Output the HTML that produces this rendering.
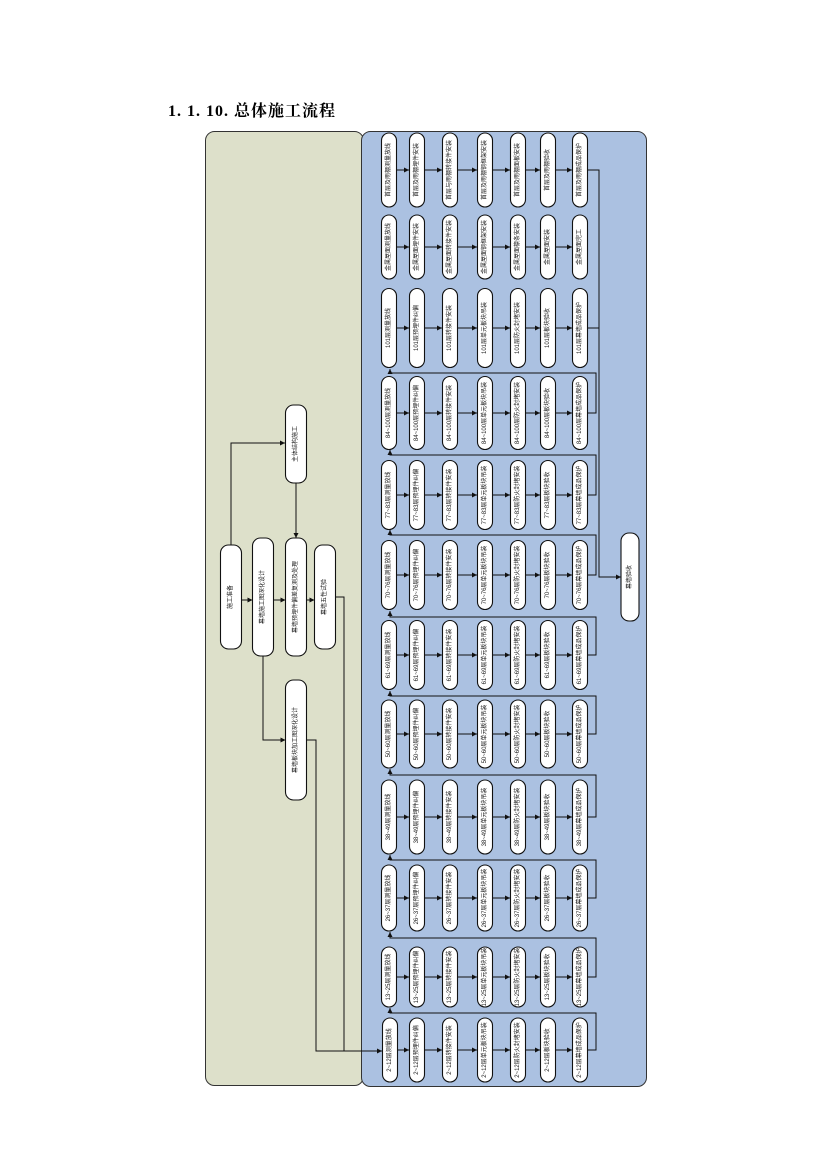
<!DOCTYPE html>
<html><head><meta charset="utf-8"><style>
html,body{margin:0;padding:0;background:#fff;}
svg{display:block;}
text{font-family:"Liberation Serif","Noto Serif CJK SC","Noto Sans CJK SC",serif;}
.n rect{fill:#fff;stroke:#111;stroke-width:1.1;}
.n text{font-size:6px;fill:#222;text-anchor:middle;dominant-baseline:central;font-family:"Liberation Sans","Noto Sans CJK SC",sans-serif;}
.c{fill:none;stroke:#111;stroke-width:1;}
</style></head><body>
<svg width="826" height="1169" viewBox="0 0 826 1169" xmlns="http://www.w3.org/2000/svg">
<defs><marker id="a" markerWidth="6" markerHeight="6" refX="5" refY="3" orient="auto" markerUnits="userSpaceOnUse"><path d="M0,0.5 L5,3 L0,5.5z" fill="#111"/></marker></defs>
<text x="168" y="116" font-size="16" font-weight="bold" textLength="167" lengthAdjust="spacing" style="font-family:'Liberation Serif','Noto Serif CJK SC',serif">1. 1. 10.  总体施工流程</text>
<rect x="205.5" y="131.5" width="158" height="954" rx="9" fill="#dde0ca" stroke="#333" stroke-width="1"/>
<rect x="361.5" y="131.5" width="285" height="955" rx="9" fill="#abc1e1" stroke="#333" stroke-width="1"/>

<g class="n">
<g transform="translate(231,597)"><rect x="-10.5" y="-52" width="21" height="104" rx="8"/><text transform="rotate(-90)">施工准备</text></g>
<g transform="translate(263,597)"><rect x="-10.5" y="-59" width="21" height="118" rx="8"/><text transform="rotate(-90)">幕墙施工图深化设计</text></g>
<g transform="translate(296,597)"><rect x="-10.5" y="-59" width="21" height="118" rx="8"/><text transform="rotate(-90)">幕墙预埋件偏差复测及处理</text></g>
<g transform="translate(325,597)"><rect x="-10.5" y="-52" width="21" height="104" rx="8"/><text transform="rotate(-90)">幕墙五性试验</text></g>
<g transform="translate(296,444)"><rect x="-10.5" y="-39" width="21" height="78" rx="8"/><text transform="rotate(-90)">主体结构施工</text></g>
<g transform="translate(296,740)"><rect x="-10.5" y="-60" width="21" height="120" rx="8"/><text transform="rotate(-90)">幕墙板块加工图深化设计</text></g>
<g transform="translate(630,577)"><rect x="-9" y="-44" width="18" height="88" rx="8"/><text transform="rotate(-90)">幕墙验收</text></g>
</g>
<g class="c">
<path d="M231,545 V443 H285" marker-end="url(#a)"/>
<path d="M296,483 V538" marker-end="url(#a)"/>
<path d="M241.5,600 H252.5" marker-end="url(#a)"/>
<path d="M273.5,600 H285.5" marker-end="url(#a)"/>
<path d="M306.5,600 H314.5" marker-end="url(#a)"/>
<path d="M263,656 V740 H285.5" marker-end="url(#a)"/>
<path d="M306.5,740 H316 V1051 H382" marker-end="url(#a)"/>
<path d="M335.5,597 H344 V1051"/>
<path d="M587,170 H599 V577 H621" marker-end="url(#a)"/>
<path d="M587,328 H599"/>
</g>

<g class="c">
<path d="M587,1050 H596 V1013 H390 V1008" marker-end="url(#a)"/>
<path d="M587,977 H596 V938 H390 V932" marker-end="url(#a)"/>
<path d="M587,898 H596 V860 H390 V855" marker-end="url(#a)"/>
<path d="M587,817 H596 V775 H390 V769" marker-end="url(#a)"/>
<path d="M587,734 H596 V696 H390 V691" marker-end="url(#a)"/>
<path d="M587,655 H596 V617 H390 V611" marker-end="url(#a)"/>
<path d="M587,575 H596 V535 H390 V530" marker-end="url(#a)"/>
<path d="M587,495 H596 V455 H390 V450" marker-end="url(#a)"/>
<path d="M587,413 H596 V373 H390 V369" marker-end="url(#a)"/>
</g>

<g class="c" marker-end="url(#a)">
<path d="M397,170H409"/><path d="M425,170H442"/><path d="M458,170H477"/><path d="M493,170H510"/><path d="M526,170H540"/><path d="M556,170H572"/>
<path d="M397,247H409"/><path d="M425,247H442"/><path d="M458,247H477"/><path d="M493,247H510"/><path d="M526,247H540"/><path d="M556,247H572"/>
<path d="M397,328H409"/><path d="M425,328H442"/><path d="M458,328H477"/><path d="M493,328H510"/><path d="M526,328H540"/><path d="M556,328H572"/>
<path d="M397,413H409"/><path d="M425,413H442"/><path d="M458,413H477"/><path d="M493,413H510"/><path d="M526,413H540"/><path d="M556,413H572"/>
<path d="M397,495H409"/><path d="M425,495H442"/><path d="M458,495H477"/><path d="M493,495H510"/><path d="M526,495H540"/><path d="M556,495H572"/>
<path d="M397,575H409"/><path d="M425,575H442"/><path d="M458,575H477"/><path d="M493,575H510"/><path d="M526,575H540"/><path d="M556,575H572"/>
<path d="M397,655H409"/><path d="M425,655H442"/><path d="M458,655H477"/><path d="M493,655H510"/><path d="M526,655H540"/><path d="M556,655H572"/>
<path d="M397,734H409"/><path d="M425,734H442"/><path d="M458,734H477"/><path d="M493,734H510"/><path d="M526,734H540"/><path d="M556,734H572"/>
<path d="M397,817H409"/><path d="M425,817H442"/><path d="M458,817H477"/><path d="M493,817H510"/><path d="M526,817H540"/><path d="M556,817H572"/>
<path d="M397,898H409"/><path d="M425,898H442"/><path d="M458,898H477"/><path d="M493,898H510"/><path d="M526,898H540"/><path d="M556,898H572"/>
<path d="M397,977H409"/><path d="M425,977H442"/><path d="M458,977H477"/><path d="M493,977H510"/><path d="M526,977H540"/><path d="M556,977H572"/>
<path d="M397,1050H409"/><path d="M425,1050H442"/><path d="M458,1050H477"/><path d="M493,1050H510"/><path d="M526,1050H540"/><path d="M556,1050H572"/>
</g>

<g class="n">
<g transform="translate(389,170)"><rect x="-7.5" y="-37" width="15" height="74" rx="7.5"/><text transform="rotate(-90)">首层及雨棚测量放线</text></g>
<g transform="translate(417,170)"><rect x="-7.5" y="-37" width="15" height="74" rx="7.5"/><text transform="rotate(-90)">首层及雨棚埋件安装</text></g>
<g transform="translate(450,170)"><rect x="-7.5" y="-37" width="15" height="74" rx="7.5"/><text transform="rotate(-90)">首层与雨棚转接件安装</text></g>
<g transform="translate(485,170)"><rect x="-7.5" y="-37" width="15" height="74" rx="7.5"/><text transform="rotate(-90)">首层及雨棚钢框架安装</text></g>
<g transform="translate(518,170)"><rect x="-7.5" y="-37" width="15" height="74" rx="7.5"/><text transform="rotate(-90)">首层及雨棚面板安装</text></g>
<g transform="translate(548,170)"><rect x="-7.5" y="-37" width="15" height="74" rx="7.5"/><text transform="rotate(-90)">首层及雨棚验收</text></g>
<g transform="translate(580,170)"><rect x="-7.5" y="-37" width="15" height="74" rx="7.5"/><text transform="rotate(-90)">首层及雨棚成品保护</text></g>
<g transform="translate(389,247)"><rect x="-7.5" y="-32" width="15" height="64" rx="7.5"/><text transform="rotate(-90)">金属屋面测量放线</text></g>
<g transform="translate(417,247)"><rect x="-7.5" y="-32" width="15" height="64" rx="7.5"/><text transform="rotate(-90)">金属屋面埋件安装</text></g>
<g transform="translate(450,247)"><rect x="-7.5" y="-32" width="15" height="64" rx="7.5"/><text transform="rotate(-90)">金属屋面转接件安装</text></g>
<g transform="translate(485,247)"><rect x="-7.5" y="-32" width="15" height="64" rx="7.5"/><text transform="rotate(-90)">金属屋面钢框架安装</text></g>
<g transform="translate(518,247)"><rect x="-7.5" y="-32" width="15" height="64" rx="7.5"/><text transform="rotate(-90)">金属屋面檩条安装</text></g>
<g transform="translate(548,247)"><rect x="-7.5" y="-32" width="15" height="64" rx="7.5"/><text transform="rotate(-90)">金属屋面安装</text></g>
<g transform="translate(580,247)"><rect x="-7.5" y="-32" width="15" height="64" rx="7.5"/><text transform="rotate(-90)">金属屋面完工</text></g>
<g transform="translate(389,328)"><rect x="-7.5" y="-39.5" width="15" height="79" rx="7.5"/><text transform="rotate(-90)">101层测量放线</text></g>
<g transform="translate(417,328)"><rect x="-7.5" y="-39.5" width="15" height="79" rx="7.5"/><text transform="rotate(-90)">101层预埋件纠偏</text></g>
<g transform="translate(450,328)"><rect x="-7.5" y="-39.5" width="15" height="79" rx="7.5"/><text transform="rotate(-90)">101层转接件安装</text></g>
<g transform="translate(485,328)"><rect x="-7.5" y="-39.5" width="15" height="79" rx="7.5"/><text transform="rotate(-90)">101层单元板块吊装</text></g>
<g transform="translate(518,328)"><rect x="-7.5" y="-39.5" width="15" height="79" rx="7.5"/><text transform="rotate(-90)">101层防火封堵安装</text></g>
<g transform="translate(548,328)"><rect x="-7.5" y="-39.5" width="15" height="79" rx="7.5"/><text transform="rotate(-90)">101层板块验收</text></g>
<g transform="translate(580,328)"><rect x="-7.5" y="-39.5" width="15" height="79" rx="7.5"/><text transform="rotate(-90)">101层幕墙成品保护</text></g>
<g transform="translate(389,413)"><rect x="-7.5" y="-36.5" width="15" height="73" rx="7.5"/><text transform="rotate(-90)">84~100层测量放线</text></g>
<g transform="translate(417,413)"><rect x="-7.5" y="-36.5" width="15" height="73" rx="7.5"/><text transform="rotate(-90)">84~100层预埋件纠偏</text></g>
<g transform="translate(450,413)"><rect x="-7.5" y="-36.5" width="15" height="73" rx="7.5"/><text transform="rotate(-90)">84~100层转接件安装</text></g>
<g transform="translate(485,413)"><rect x="-7.5" y="-36.5" width="15" height="73" rx="7.5"/><text transform="rotate(-90)">84~100层单元板块吊装</text></g>
<g transform="translate(518,413)"><rect x="-7.5" y="-36.5" width="15" height="73" rx="7.5"/><text transform="rotate(-90)">84~100层防火封堵安装</text></g>
<g transform="translate(548,413)"><rect x="-7.5" y="-36.5" width="15" height="73" rx="7.5"/><text transform="rotate(-90)">84~100层板块验收</text></g>
<g transform="translate(580,413)"><rect x="-7.5" y="-36.5" width="15" height="73" rx="7.5"/><text transform="rotate(-90)">84~100层幕墙成品保护</text></g>
<g transform="translate(389,495)"><rect x="-7.5" y="-34.5" width="15" height="69" rx="7.5"/><text transform="rotate(-90)">77~83层测量放线</text></g>
<g transform="translate(417,495)"><rect x="-7.5" y="-34.5" width="15" height="69" rx="7.5"/><text transform="rotate(-90)">77~83层预埋件纠偏</text></g>
<g transform="translate(450,495)"><rect x="-7.5" y="-34.5" width="15" height="69" rx="7.5"/><text transform="rotate(-90)">77~83层转接件安装</text></g>
<g transform="translate(485,495)"><rect x="-7.5" y="-34.5" width="15" height="69" rx="7.5"/><text transform="rotate(-90)">77~83层单元板块吊装</text></g>
<g transform="translate(518,495)"><rect x="-7.5" y="-34.5" width="15" height="69" rx="7.5"/><text transform="rotate(-90)">77~83层防火封堵安装</text></g>
<g transform="translate(548,495)"><rect x="-7.5" y="-34.5" width="15" height="69" rx="7.5"/><text transform="rotate(-90)">77~83层板块验收</text></g>
<g transform="translate(580,495)"><rect x="-7.5" y="-34.5" width="15" height="69" rx="7.5"/><text transform="rotate(-90)">77~83层幕墙成品保护</text></g>
<g transform="translate(389,575)"><rect x="-7.5" y="-34.5" width="15" height="69" rx="7.5"/><text transform="rotate(-90)">70~76层测量放线</text></g>
<g transform="translate(417,575)"><rect x="-7.5" y="-34.5" width="15" height="69" rx="7.5"/><text transform="rotate(-90)">70~76层预埋件纠偏</text></g>
<g transform="translate(450,575)"><rect x="-7.5" y="-34.5" width="15" height="69" rx="7.5"/><text transform="rotate(-90)">70~76层转接件安装</text></g>
<g transform="translate(485,575)"><rect x="-7.5" y="-34.5" width="15" height="69" rx="7.5"/><text transform="rotate(-90)">70~76层单元板块吊装</text></g>
<g transform="translate(518,575)"><rect x="-7.5" y="-34.5" width="15" height="69" rx="7.5"/><text transform="rotate(-90)">70~76层防火封堵安装</text></g>
<g transform="translate(548,575)"><rect x="-7.5" y="-34.5" width="15" height="69" rx="7.5"/><text transform="rotate(-90)">70~76层板块验收</text></g>
<g transform="translate(580,575)"><rect x="-7.5" y="-34.5" width="15" height="69" rx="7.5"/><text transform="rotate(-90)">70~76层幕墙成品保护</text></g>
<g transform="translate(389,655)"><rect x="-7.5" y="-34.5" width="15" height="69" rx="7.5"/><text transform="rotate(-90)">61~69层测量放线</text></g>
<g transform="translate(417,655)"><rect x="-7.5" y="-34.5" width="15" height="69" rx="7.5"/><text transform="rotate(-90)">61~69层预埋件纠偏</text></g>
<g transform="translate(450,655)"><rect x="-7.5" y="-34.5" width="15" height="69" rx="7.5"/><text transform="rotate(-90)">61~69层转接件安装</text></g>
<g transform="translate(485,655)"><rect x="-7.5" y="-34.5" width="15" height="69" rx="7.5"/><text transform="rotate(-90)">61~69层单元板块吊装</text></g>
<g transform="translate(518,655)"><rect x="-7.5" y="-34.5" width="15" height="69" rx="7.5"/><text transform="rotate(-90)">61~69层防火封堵安装</text></g>
<g transform="translate(548,655)"><rect x="-7.5" y="-34.5" width="15" height="69" rx="7.5"/><text transform="rotate(-90)">61~69层板块验收</text></g>
<g transform="translate(580,655)"><rect x="-7.5" y="-34.5" width="15" height="69" rx="7.5"/><text transform="rotate(-90)">61~69层幕墙成品保护</text></g>
<g transform="translate(389,734)"><rect x="-7.5" y="-34" width="15" height="68" rx="7.5"/><text transform="rotate(-90)">50~60层测量放线</text></g>
<g transform="translate(417,734)"><rect x="-7.5" y="-34" width="15" height="68" rx="7.5"/><text transform="rotate(-90)">50~60层预埋件纠偏</text></g>
<g transform="translate(450,734)"><rect x="-7.5" y="-34" width="15" height="68" rx="7.5"/><text transform="rotate(-90)">50~60层转接件安装</text></g>
<g transform="translate(485,734)"><rect x="-7.5" y="-34" width="15" height="68" rx="7.5"/><text transform="rotate(-90)">50~60层单元板块吊装</text></g>
<g transform="translate(518,734)"><rect x="-7.5" y="-34" width="15" height="68" rx="7.5"/><text transform="rotate(-90)">50~60层防火封堵安装</text></g>
<g transform="translate(548,734)"><rect x="-7.5" y="-34" width="15" height="68" rx="7.5"/><text transform="rotate(-90)">50~60层板块验收</text></g>
<g transform="translate(580,734)"><rect x="-7.5" y="-34" width="15" height="68" rx="7.5"/><text transform="rotate(-90)">50~60层幕墙成品保护</text></g>
<g transform="translate(389,817)"><rect x="-7.5" y="-37" width="15" height="74" rx="7.5"/><text transform="rotate(-90)">38~49层测量放线</text></g>
<g transform="translate(417,817)"><rect x="-7.5" y="-37" width="15" height="74" rx="7.5"/><text transform="rotate(-90)">38~49层预埋件纠偏</text></g>
<g transform="translate(450,817)"><rect x="-7.5" y="-37" width="15" height="74" rx="7.5"/><text transform="rotate(-90)">38~49层转接件安装</text></g>
<g transform="translate(485,817)"><rect x="-7.5" y="-37" width="15" height="74" rx="7.5"/><text transform="rotate(-90)">38~49层单元板块吊装</text></g>
<g transform="translate(518,817)"><rect x="-7.5" y="-37" width="15" height="74" rx="7.5"/><text transform="rotate(-90)">38~49层防火封堵安装</text></g>
<g transform="translate(548,817)"><rect x="-7.5" y="-37" width="15" height="74" rx="7.5"/><text transform="rotate(-90)">38~49层板块验收</text></g>
<g transform="translate(580,817)"><rect x="-7.5" y="-37" width="15" height="74" rx="7.5"/><text transform="rotate(-90)">38~49层幕墙成品保护</text></g>
<g transform="translate(389,898)"><rect x="-7.5" y="-33" width="15" height="66" rx="7.5"/><text transform="rotate(-90)">26~37层测量放线</text></g>
<g transform="translate(417,898)"><rect x="-7.5" y="-33" width="15" height="66" rx="7.5"/><text transform="rotate(-90)">26~37层预埋件纠偏</text></g>
<g transform="translate(450,898)"><rect x="-7.5" y="-33" width="15" height="66" rx="7.5"/><text transform="rotate(-90)">26~37层转接件安装</text></g>
<g transform="translate(485,898)"><rect x="-7.5" y="-33" width="15" height="66" rx="7.5"/><text transform="rotate(-90)">26~37层单元板块吊装</text></g>
<g transform="translate(518,898)"><rect x="-7.5" y="-33" width="15" height="66" rx="7.5"/><text transform="rotate(-90)">26~37层防火封堵安装</text></g>
<g transform="translate(548,898)"><rect x="-7.5" y="-33" width="15" height="66" rx="7.5"/><text transform="rotate(-90)">26~37层板块验收</text></g>
<g transform="translate(580,898)"><rect x="-7.5" y="-33" width="15" height="66" rx="7.5"/><text transform="rotate(-90)">26~37层幕墙成品保护</text></g>
<g transform="translate(389,977)"><rect x="-7.5" y="-30" width="15" height="60" rx="7.5"/><text transform="rotate(-90)">13~25层测量放线</text></g>
<g transform="translate(417,977)"><rect x="-7.5" y="-30" width="15" height="60" rx="7.5"/><text transform="rotate(-90)">13~25层预埋件纠偏</text></g>
<g transform="translate(450,977)"><rect x="-7.5" y="-30" width="15" height="60" rx="7.5"/><text transform="rotate(-90)">13~25层转接件安装</text></g>
<g transform="translate(485,977)"><rect x="-7.5" y="-30" width="15" height="60" rx="7.5"/><text transform="rotate(-90)">13~25层单元板块吊装</text></g>
<g transform="translate(518,977)"><rect x="-7.5" y="-30" width="15" height="60" rx="7.5"/><text transform="rotate(-90)">13~25层防火封堵安装</text></g>
<g transform="translate(548,977)"><rect x="-7.5" y="-30" width="15" height="60" rx="7.5"/><text transform="rotate(-90)">13~25层板块验收</text></g>
<g transform="translate(580,977)"><rect x="-7.5" y="-30" width="15" height="60" rx="7.5"/><text transform="rotate(-90)">13~25层幕墙成品保护</text></g>
<g transform="translate(390,1050)"><rect x="-7.5" y="-32" width="15" height="64" rx="7.5"/><text transform="rotate(-90)">2~12层测量放线</text></g>
<g transform="translate(417,1050)"><rect x="-7.5" y="-32" width="15" height="64" rx="7.5"/><text transform="rotate(-90)">2~12层预埋件纠偏</text></g>
<g transform="translate(450,1050)"><rect x="-7.5" y="-32" width="15" height="64" rx="7.5"/><text transform="rotate(-90)">2~12层转接件安装</text></g>
<g transform="translate(485,1050)"><rect x="-7.5" y="-32" width="15" height="64" rx="7.5"/><text transform="rotate(-90)">2~12层单元板块吊装</text></g>
<g transform="translate(518,1050)"><rect x="-7.5" y="-32" width="15" height="64" rx="7.5"/><text transform="rotate(-90)">2~12层防火封堵安装</text></g>
<g transform="translate(548,1050)"><rect x="-7.5" y="-32" width="15" height="64" rx="7.5"/><text transform="rotate(-90)">2~12层板块验收</text></g>
<g transform="translate(580,1050)"><rect x="-7.5" y="-32" width="15" height="64" rx="7.5"/><text transform="rotate(-90)">2~12层幕墙成品保护</text></g>
</g>
</svg>
</body></html>
